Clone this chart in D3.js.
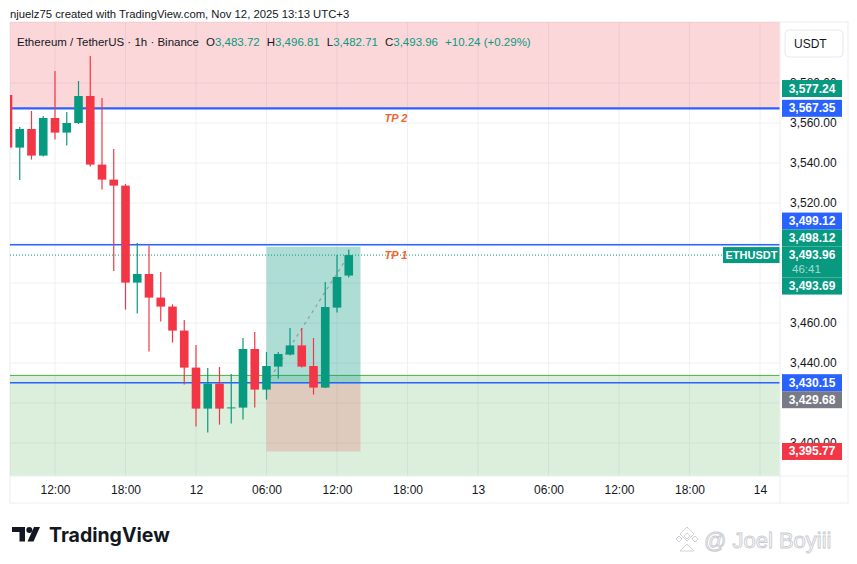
<!DOCTYPE html>
<html>
<head>
<meta charset="utf-8">
<script src="https://cdn.jsdelivr.net/npm/d3@7"></script>
<style>
body{margin:0;background:#fff}
svg{display:block;font-family:"Liberation Sans",Arial,sans-serif}
</style>
</head>
<body>
<div id="chart"></div>
<script>
// hourly candles, ETH/USDT 1h (times shown as on chart, UTC+3)
const candleTimes = [
  "2025-11-11T08:00","2025-11-11T09:00","2025-11-11T10:00","2025-11-11T11:00","2025-11-11T12:00",
  "2025-11-11T13:00","2025-11-11T14:00","2025-11-11T15:00","2025-11-11T16:00","2025-11-11T17:00",
  "2025-11-11T18:00","2025-11-11T19:00","2025-11-11T20:00","2025-11-11T21:00","2025-11-11T22:00",
  "2025-11-11T23:00","2025-11-12T00:00","2025-11-12T01:00","2025-11-12T02:00","2025-11-12T03:00",
  "2025-11-12T04:00","2025-11-12T05:00","2025-11-12T06:00","2025-11-12T07:00","2025-11-12T08:00",
  "2025-11-12T09:00","2025-11-12T10:00","2025-11-12T11:00","2025-11-12T12:00","2025-11-12T13:00"
];
const opens  = [3574,3547.7,3557,3543.7,3562.5,3555.2,3560,3573.5,3539.2,3531.7,3528.7,3480.2,3484.5,3472.7,3468.2,
                3456.2,3437.7,3417.2,3429.7,3417.4,3417.7,3447,3426.7,3438.2,3444.2,3448.8,3438.5,3427.7,3467.7,3483.72];
const highs  = [3578,3558,3566,3563.5,3586,3565.5,3581,3593.5,3572.5,3547,3529.5,3500,3498.8,3485.5,3469.3,
                3461.5,3449,3437.5,3438,3434.5,3452.5,3455.5,3445.5,3445.5,3457.5,3457.5,3452.5,3480.5,3494,3496.81];
const lows   = [3545,3531.5,3541.7,3543.2,3551.7,3548.7,3559.5,3538.2,3526.7,3486,3466.7,3464.7,3445.7,3460.7,3450.2,
                3429.2,3408.2,3405.2,3409.2,3409.7,3411.7,3417.7,3421.7,3432.2,3443.7,3437.7,3424.2,3427.5,3465.2,3482.71];
const closes = [3547.7,3557,3543.7,3562.5,3555.2,3560,3573.5,3539.2,3531.7,3528.7,3480.2,3484.5,3472.7,3468.2,3456.2,
                3437.7,3417.2,3429.7,3417.2,3417.8,3447,3426.7,3438.5,3444.5,3448.8,3438.2,3427.7,3468,3483,3493.96];

const priceTicks = [3400,3420,3440,3460,3480,3500,3520,3540,3560,3580];
const hLines = [3567.35, 3499.12, 3430.15];
const tpLabels = [{text:"TP 2", price:3567.35, below:true}, {text:"TP 1", price:3493.96, below:false}];
const lastPrice = 3493.96;

// drawn zones
const shortZone = [3567.35, 3625];
const supportZone = [3375, 3433.8];
const posStart = "2025-11-12T06:00", posEnd = "2025-11-12T14:00";
const posEntry = 3429.68, posTarget = 3498.12, posStop = 3395.77;

// right-scale price labels
const axisLabels = [
  {price:3577.24, color:"#089981"},
  {price:3567.35, color:"#2962ff"},
  {price:3499.12, color:"#2962ff"},
  {price:3498.12, color:"#089981"},
  {price:3493.96, color:"#089981", sub:"46:41", anchor:true},
  {price:3493.69, color:"#089981"},
  {price:3430.15, color:"#2962ff"},
  {price:3429.68, color:"#787b86"},
  {price:3395.77, color:"#f23645"}
];

const W = 857, H = 564;
const plot = {l:10, r:780, t:22, b:476};
const axisBottom = 503, scaleRight = 848;
const green = "#089981", red = "#f23645", blue = "#2962ff", ink = "#131722";

const parse = d3.utcParse("%Y-%m-%dT%H:%M");
const x = d3.scaleUtc()
  .domain([parse("2025-11-11T12:00"), parse("2025-11-14T00:00")])
  .range([55, 760]);
const y = d3.scaleLinear().domain([3383.5, 3610.5]).range([plot.b, plot.t]);
const fmt = d3.format(",.2f");

const candles = candleTimes.map((t,i) => ({t:parse(t), o:opens[i], h:highs[i], l:lows[i], c:closes[i]}));

const svg = d3.select("#chart").append("svg").attr("width", W).attr("height", H);
svg.append("rect").attr("width", W).attr("height", H).attr("fill", "#fff");

// top caption
svg.append("text").attr("x", 10).attr("y", 18).attr("font-size", 11.3).attr("fill", ink)
  .text("njuelz75 created with TradingView.com, Nov 12, 2025 13:13 UTC+3");

// frame
svg.append("rect").attr("x", plot.l).attr("y", plot.t)
  .attr("width", scaleRight - plot.l).attr("height", axisBottom - plot.t)
  .attr("fill", "none").attr("stroke", "#eceef2");

svg.append("defs").append("clipPath").attr("id", "clip").append("rect")
  .attr("x", plot.l).attr("y", plot.t).attr("width", plot.r - plot.l).attr("height", plot.b - plot.t);
const g = svg.append("g").attr("clip-path", "url(#clip)");

// grid
const xTicks = x.ticks(d3.utcHour.every(6));
g.selectAll(".vg").data(xTicks).join("line")
  .attr("x1", d => x(d)).attr("x2", d => x(d)).attr("y1", plot.t).attr("y2", plot.b)
  .attr("stroke", "#eef0f4");
g.selectAll(".hg").data(priceTicks).join("line")
  .attr("x1", plot.l).attr("x2", plot.r).attr("y1", d => y(d)).attr("y2", d => y(d))
  .attr("stroke", "#eef0f4");

// zones
g.append("rect").attr("x", plot.l).attr("width", plot.r - plot.l)
  .attr("y", y(shortZone[1])).attr("height", y(shortZone[0]) - y(shortZone[1]))
  .attr("fill", "rgba(242,54,69,0.2)");
g.append("rect").attr("x", plot.l).attr("width", plot.r - plot.l)
  .attr("y", y(supportZone[1])).attr("height", y(supportZone[0]) - y(supportZone[1]))
  .attr("fill", "rgba(76,175,80,0.2)");
g.append("line").attr("x1", plot.l).attr("x2", plot.r)
  .attr("y1", y(supportZone[1])).attr("y2", y(supportZone[1]))
  .attr("stroke", "#4caf50").attr("stroke-width", 1);

// long position tool
const px0 = x(parse(posStart)), px1 = x(parse(posEnd));
g.append("rect").attr("x", px0).attr("width", px1 - px0)
  .attr("y", y(posTarget)).attr("height", y(posEntry) - y(posTarget))
  .attr("fill", "rgba(8,153,129,0.33)");
g.append("rect").attr("x", px0).attr("width", px1 - px0)
  .attr("y", y(posEntry)).attr("height", y(posStop) - y(posEntry))
  .attr("fill", "rgba(242,54,69,0.2)");
g.append("line")
  .attr("x1", x(parse(posStart))).attr("y1", y(posEntry))
  .attr("x2", x(candles[candles.length-1].t)).attr("y2", y(lastPrice))
  .attr("stroke", "#9598a1").attr("stroke-width", 1.2).attr("stroke-dasharray", "3,4");

// horizontal lines
g.selectAll(".hl").data(hLines).join("line")
  .attr("x1", plot.l).attr("x2", plot.r).attr("y1", d => y(d)).attr("y2", d => y(d))
  .attr("stroke", blue).attr("stroke-width", (d,i) => i === 0 ? 2.2 : 1.6);

// last price dotted line
g.append("line").attr("x1", plot.l).attr("x2", plot.r)
  .attr("y1", y(lastPrice)).attr("y2", y(lastPrice))
  .attr("stroke", green).attr("stroke-width", 1).attr("stroke-dasharray", "1,2");

// TP labels
g.selectAll(".tp").data(tpLabels).join("text")
  .attr("x", 396).attr("y", d => y(d.price) + (d.below ? 14 : 4))
  .attr("text-anchor", "middle").attr("font-size", 11).attr("font-weight", "bold")
  .attr("font-style", "italic").attr("fill", "#f0642e").text(d => d.text);

// candles
const bw = 8.6;
const cg = g.selectAll(".candle").data(candles).join("g");
cg.append("line")
  .attr("x1", d => x(d.t)).attr("x2", d => x(d.t))
  .attr("y1", d => y(d.h)).attr("y2", d => y(d.l))
  .attr("stroke", d => d.c >= d.o ? green : red).attr("stroke-width", 1.2);
cg.append("rect")
  .attr("x", d => x(d.t) - bw/2).attr("width", bw)
  .attr("y", d => y(Math.max(d.o, d.c)))
  .attr("height", d => Math.max(1, Math.abs(y(d.o) - y(d.c))))
  .attr("fill", d => d.c >= d.o ? green : red);

// symbol tag on last price line
svg.append("rect").attr("x", 723).attr("y", y(lastPrice) - 8).attr("width", 57).attr("height", 16)
  .attr("fill", green);
svg.append("text").attr("x", 751.5).attr("y", y(lastPrice) + 4).attr("text-anchor", "middle")
  .attr("font-size", 11).attr("font-weight", "bold").attr("fill", "#fff").text("ETHUSDT");

// legend (OHLC of the last bar, change vs its open)
const legend = svg.append("text").attr("x", 17).attr("y", 46).attr("font-size", 11.5).attr("fill", ink);
legend.append("tspan").text("Ethereum / TetherUS · 1h · Binance");
const last = candles[candles.length-1];
[["O", last.o], ["H", last.h], ["L", last.l], ["C", last.c]].forEach(([k, v]) => {
  legend.append("tspan").attr("dx", 7).text(k);
  legend.append("tspan").attr("fill", green).text(fmt(v));
});
const chg = last.c - last.o;
legend.append("tspan").attr("dx", 7).attr("fill", green)
  .text("+" + chg.toFixed(2) + " (+" + (chg / last.o * 100).toFixed(2) + "%)");

// x axis
const xAxis = d3.axisBottom(x).tickValues(xTicks).tickSize(0).tickPadding(0)
  .tickFormat(d => d.getUTCHours() === 0 ? d3.utcFormat("%-d")(d) : d3.utcFormat("%H:%M")(d));
const xa = svg.append("g").attr("transform", `translate(0,${plot.b + 9})`).call(xAxis);
xa.select(".domain").remove();
xa.selectAll("text").attr("font-size", 12).attr("fill", ink).attr("font-family", "Liberation Sans, Arial");
svg.append("line").attr("x1", plot.l).attr("x2", scaleRight).attr("y1", plot.b).attr("y2", plot.b)
  .attr("stroke", "#eceef2");
svg.append("line").attr("x1", plot.r).attr("x2", plot.r).attr("y1", plot.t).attr("y2", axisBottom)
  .attr("stroke", "#eceef2");

// right scale: place labels with the live price label anchored
const LH = 17;
const placed = axisLabels.map(d => ({...d, yy: y(d.price)}));
const anchor = placed.find(d => d.anchor);
const anchorTop = anchor.yy - LH/2, anchorBot = anchor.yy + LH/2 + 14;
anchor.top = anchorTop; anchor.bot = anchorBot;
let edge = anchorTop;
placed.filter(d => !d.anchor && d.yy <= anchor.yy).sort((a,b) => b.yy - a.yy).forEach(d => {
  d.yy = Math.min(d.yy, edge - LH/2); d.top = d.yy - LH/2; d.bot = d.yy + LH/2; edge = d.top;
});
edge = anchorBot;
placed.filter(d => !d.anchor && d.yy > anchor.yy).sort((a,b) => a.yy - b.yy).forEach(d => {
  d.yy = Math.max(d.yy, edge + LH/2); d.top = d.yy - LH/2; d.bot = d.yy + LH/2; edge = d.bot;
});

// tick labels hidden where a price label sits right on them
const visibleTicks = priceTicks.filter(p => placed.every(d => Math.abs(d.yy - y(p)) >= 5));
const yAxis = d3.axisRight(y).tickValues(visibleTicks).tickSize(0).tickPadding(0).tickFormat(fmt);
const ya = svg.append("g").attr("transform", `translate(${plot.r + 10},0)`).call(yAxis);
ya.select(".domain").remove();
ya.selectAll("text").attr("font-size", 12).attr("fill", ink).attr("font-family", "Liberation Sans, Arial");

svg.selectAll(".pl").data(placed).join("rect")
  .attr("x", plot.r + 2).attr("width", 60)
  .attr("y", d => d.top).attr("height", d => d.bot - d.top)
  .attr("fill", d => d.color);
svg.selectAll(".plt").data(placed).join("text")
  .attr("x", plot.r + 32).attr("y", d => d.top + 12.5).attr("text-anchor", "middle")
  .attr("font-size", 12).attr("font-weight", "bold").attr("fill", "#fff").text(d => fmt(d.price));
svg.selectAll(".pls").data(placed.filter(d => d.sub)).join("text")
  .attr("x", plot.r + 12).attr("y", d => d.top + 26.5)
  .attr("font-size", 11.5).attr("fill", "rgba(255,255,255,0.65)").text(d => d.sub);

// currency box
svg.append("rect").attr("x", 785).attr("y", 30).attr("width", 58).attr("height", 27).attr("rx", 4)
  .attr("fill", "#fff").attr("stroke", "#e6e8ee");
svg.append("text").attr("x", 794).attr("y", 48).attr("font-size", 12).attr("fill", ink).text("USDT");

// TradingView logo
const logo = svg.append("g").attr("fill", ink);
logo.append("path").attr("d", "M12,527h13v14.5h-5.5v-9.5h-7.5z");
logo.append("circle").attr("cx", 29.3).attr("cy", 530).attr("r", 3);
logo.append("path").attr("d", "M34,527h6l-6.5,14.5h-6z");
svg.append("text").attr("x", 49).attr("y", 542).attr("font-family", "Inter, sans-serif")
  .attr("font-weight", 700).attr("font-size", 19.5).attr("fill", ink).text("TradingView");

// watermark
const wm = svg.append("g").attr("fill", "none").attr("stroke", "#cfd1d6").attr("stroke-width", 1);
wm.append("path").attr("d", "M687,527l7,7l-7,7l-7,-7z M687,533l3,3l-3,3l-3,-3z M679,536l3,3l-3,3l-3,-3z M695,536l3,3l-3,3l-3,-3z M687,544l7,7l-7,0l-7,0z");
svg.append("text").attr("x", 704).attr("y", 548).attr("font-size", 22)
  .attr("fill", "#fff").attr("stroke", "#c9cbd0").attr("stroke-width", 0.9)
  .text("@ Joel Boyiii");
</script>
</body>
</html>
